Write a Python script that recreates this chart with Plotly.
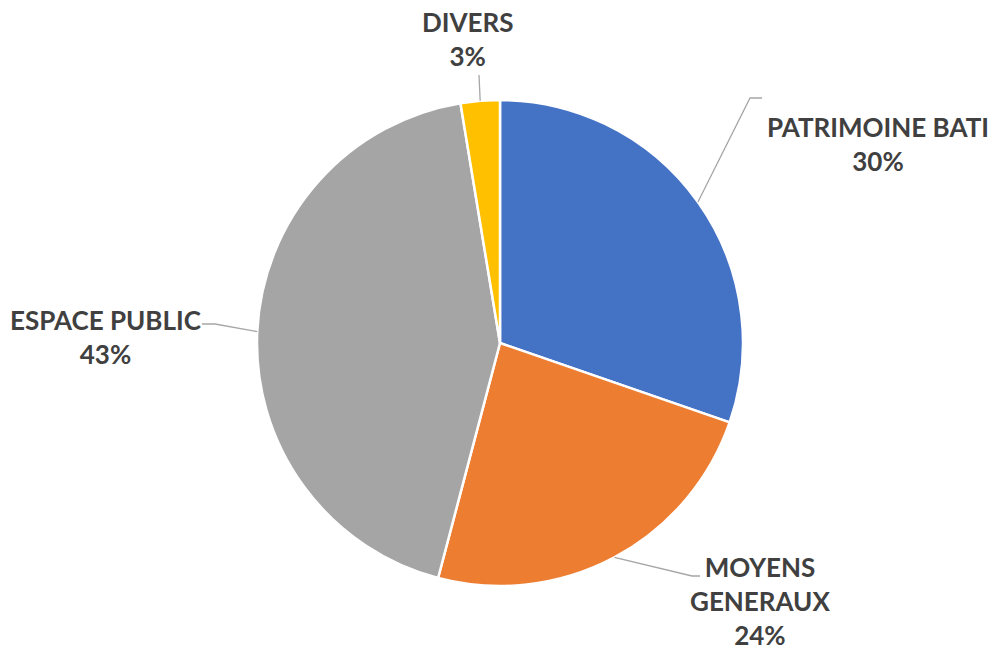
import math

import plotly.graph_objects as go

W, H = 993, 651

categories = ["PATRIMOINE BATI", "MOYENS GENERAUX", "ESPACE PUBLIC", "DIVERS"]
display_labels = ["PATRIMOINE BATI", "MOYENS<br>GENERAUX", "ESPACE PUBLIC", "DIVERS"]
values = [30.3, 23.8, 43.3, 2.6]
colors = ["#4472C4", "#ED7D31", "#A5A5A5", "#FFC000"]

# pie geometry in pixels
CX, CY, R = 500, 343, 243

# label layout: text centre and leader line elbow points (pixels)
LABEL_LAYOUT = {
    "PATRIMOINE BATI": dict(text=(878, 144), elbow=[(750, 98), (762, 98)]),
    "MOYENS GENERAUX": dict(text=(760, 601), elbow=[(692, 576), (700, 576)]),
    "ESPACE PUBLIC": dict(text=(105, 337), elbow=[(215, 324), (202, 324)]),
    "DIVERS": dict(text=(467, 39), elbow=[(479, 75)]),
}

FONT = dict(family="Lato, 'Open Sans', sans-serif", size=26, color="#404040")


def px_to_paper(x, y):
    return x / W, 1 - y / H


fig = go.Figure()
x0, y1 = px_to_paper(CX - R, CY - R)
x1, y0 = px_to_paper(CX + R, CY + R)
fig.add_trace(
    go.Pie(
        labels=categories,
        values=values,
        sort=False,
        direction="clockwise",
        rotation=0,
        marker=dict(colors=colors, line=dict(color="white", width=2.5)),
        textinfo="none",
        hoverinfo="label+percent",
        domain=dict(x=[x0, x1], y=[y0, y1]),
        showlegend=False,
    )
)

total = sum(values)
cum = 0.0
shapes = []
annotations = []
for cat, lab, v in zip(categories, display_labels, values):
    mid = (cum + v / 2) / total
    cum += v
    ang = 2 * math.pi * mid
    ex, ey = CX + R * math.sin(ang), CY - R * math.cos(ang)
    pts = [(ex, ey)] + LABEL_LAYOUT[cat]["elbow"]
    path = ""
    for i, (px, py) in enumerate(pts):
        qx, qy = px_to_paper(px, py)
        path += ("M" if i == 0 else " L") + f" {qx:.5f} {qy:.5f}"
    shapes.append(dict(type="path", xref="paper", yref="paper", path=path,
                       line=dict(color="#A6A6A6", width=1.3)))
    tx, ty = px_to_paper(*LABEL_LAYOUT[cat]["text"])
    pct = round(v / total * 100)
    annotations.append(dict(
        x=tx, y=ty, xref="paper", yref="paper", showarrow=False,
        text=f"<b>{lab}<br>{pct}%</b>", font=FONT, align="center",
        xanchor="center", yanchor="middle",
    ))

fig.update_layout(
    width=W,
    height=H,
    margin=dict(l=0, r=0, t=0, b=0),
    paper_bgcolor="white",
    plot_bgcolor="white",
    shapes=shapes,
    annotations=annotations,
)

# the page body has a default 8px margin; drop it so the figure fills the window
fig.write_html(
    "out.html",
    config={"displayModeBar": False},
    post_script="document.body.style.margin = '0';",
)
